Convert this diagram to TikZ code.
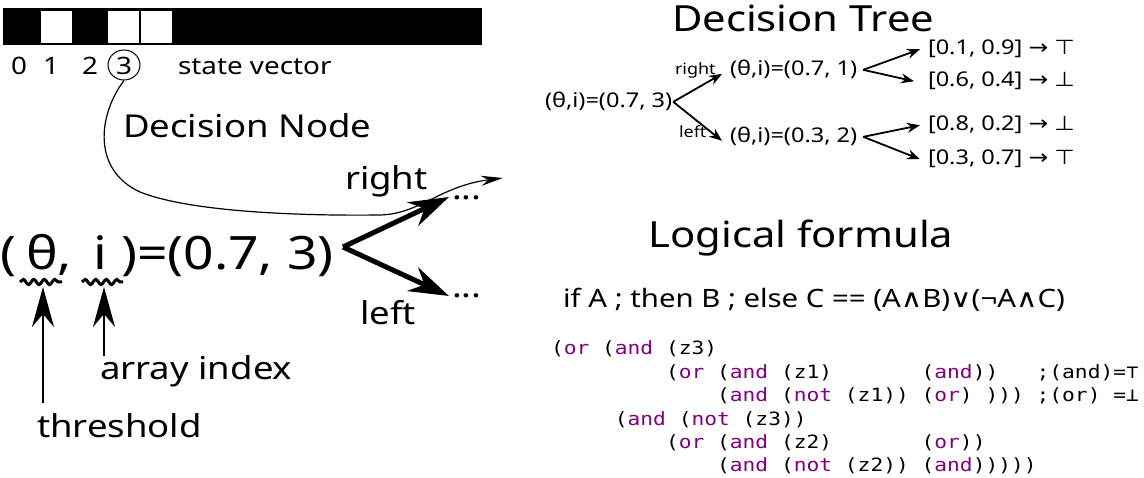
\documentclass[tikz,border=0pt]{standalone}
\usepackage{fontspec}
\setmainfont{Noto Sans}[FakeStretch=1.16]
\setmonofont{DejaVu Sans Mono}[FakeStretch=1.16]
\newfontfamily\symf{DejaVu Sans}[FakeStretch=1.16]
\usetikzlibrary{arrows.meta,shapes.geometric,decorations.pathmorphing}
\definecolor{kwc}{HTML}{800080}
\newcommand\fsz[1]{\fontsize{#1}{#1}\selectfont}
\newcommand\kw[1]{\textcolor{kwc}{#1}}
\tikzset{
  txt/.style={inner sep=0pt, outer sep=0pt},
  big/.style={txt, font=\fsz{46}},
  mid/.style={txt, font=\fsz{31.5}},
  ttl/.style={txt, font=\fsz{36}},
  sv/.style={txt, font=\fsz{24}},
  tn/.style={txt, font=\fsz{20.3}},
  tl/.style={txt, font=\fsz{15.5}},
  codeline/.style={txt, font=\ttfamily\fsz{18.3}},
  ifl/.style={txt, font=\fsz{25.3}},
  bigarr/.style={line width=5pt, -{Stealth[length=40pt,width=26pt]}},
  uparr/.style={line width=2pt, -{Stealth[length=40pt,width=22pt]}},
  tarr/.style={line width=1.8pt, -{Stealth[length=13pt,width=10pt]}},
  curvearr/.style={line width=1.2pt, -{Stealth[length=22pt,width=10pt]}},
  squig/.style={line width=3pt, decorate, decoration={snake, segment length=10.5pt, amplitude=2.6pt}},
  cell/.style={fill=white, minimum width=31pt, minimum height=32pt, inner sep=0pt},
}
\begin{document}
\begin{tikzpicture}[x=1pt,y=-1pt]
\useasboundingbox (0,0) rectangle (1144,478);
% state vector
\node[fill=black, anchor=north west, minimum width=479pt, minimum height=37pt, inner sep=0pt] (bar) at (3,8) {};
\node[cell] (cell1) at (56.5,27) {};
\node[cell] (cell3) at (123.5,27) {};
\node[cell] (cell4) at (156.5,27) {};
\node[sv, anchor=base] (d0) at (19,75) {0};
\node[sv, anchor=base] (d1) at (51,75) {1};
\node[sv, anchor=base] (d2) at (90,75) {2};
\node[sv, anchor=base] (d3) at (124,75) {3};
\node[draw, ellipse, line width=1pt, minimum width=32pt, minimum height=30pt, inner sep=0pt] (c3) at (124,65) {};
\node[sv, anchor=base west] (svl) at (178,75) {state vector};
% decision node
\node[mid, anchor=base west] (dn) at (123,138) {Decision Node};
\node[big, anchor=base west] (lp) at (0,270) {(};
\node[big, anchor=base west] (th) at (26,270) {θ,};
\node[big, anchor=base west] (ii) at (93,270) {i};
\node[big, anchor=base west] (rest) at (121,270) {)=(0.7, 3)};
\draw[squig] (20,282) -- (62,282);
\draw[squig] (82,282) -- (123,282);
\coordinate (sqT) at (43,287);
\coordinate (sqI) at (104,287);
\node[mid, anchor=base west] (ai) at (100,380) {array index};
\node[mid, anchor=base west] (thr) at (37,437) {threshold};
\draw[uparr] ([yshift=10pt]thr.north -| sqT) -- (sqT);
\draw[uparr] (ai.north -| sqI) -- (sqI);
\coordinate (apx) at (343,247);
\node[mid, anchor=base west] (dotsR) at (452,200) {...};
\node[mid, anchor=base west] (dotsL) at (452,298) {...};
\node[mid, anchor=base west] (rl) at (345,190) {right};
\node[mid, anchor=base west] (ll) at (360,325) {left};
\draw[bigarr] (apx) -- ([xshift=-3pt,yshift=3pt]dotsR.base west);
\draw[bigarr] (apx) -- ([xshift=-3pt,yshift=2pt]dotsL.base west);
\draw[curvearr] (c3.south) .. controls (98,115) and (92,170) .. (140,192)
  .. controls (190,212) and (300,216) .. (380,215)
  .. controls (420,214) and (440,186) .. (503,178);
% decision tree
\node[ttl, anchor=base west] (dt) at (672,32) {Decision Tree};
\node[tn, anchor=base west] (root) at (545,108) {(θ,i)=(0.7, 3)};
\node[tn, anchor=base west] (c1) at (730,76) {(θ,i)=(0.7, 1)};
\node[tn, anchor=base west] (c2) at (730,143) {(θ,i)=(0.3, 2)};
\node[tl, anchor=base west] (trl) at (675,75) {right};
\node[tl, anchor=base west] (tll) at (679,138) {left};
\node[tn, anchor=base west] (l1) at (928,55) {[0.1, 0.9] {\symf →} {\symf ⊤}};
\node[tn, anchor=base west] (l2) at (928,87) {[0.6, 0.4] {\symf →} {\symf ⊥}};
\node[tn, anchor=base west] (l3) at (928,131) {[0.8, 0.2] {\symf →} {\symf ⊥}};
\node[tn, anchor=base west] (l4) at (928,165) {[0.3, 0.7] {\symf →} {\symf ⊤}};
\draw[tarr] ([xshift=1pt]root.east) -- ([xshift=-8pt,yshift=-4pt]c1.west);
\draw[tarr] ([xshift=1pt]root.east) -- ([xshift=-8pt,yshift=-4pt]c2.west);
\draw[tarr] ([xshift=6pt]c1.east) -- ([xshift=-8pt]l1.west);
\draw[tarr] ([xshift=6pt]c1.east) -- ([xshift=-14pt]l2.west);
\draw[tarr] ([xshift=6pt]c2.east) -- ([xshift=-8pt]l3.west);
\draw[tarr] ([xshift=6pt]c2.east) -- ([xshift=-8pt]l4.west);
% logical formula
\node[ttl, anchor=base] (lf) at (801,248) {Logical formula};
\node[ifl, anchor=base] (ite) at (814,308) {if A ; then B ; else C == (A{\symf ∧}B){\symf ∨}(¬A{\symf ∧}C)};
\node[codeline, anchor=base west] (cl1) at (551,355) {(\kw{or} (\kw{and} (z3)};
\node[codeline, anchor=base west] (cl2) at (551,378.3) {~~~~~~~~~(\kw{or} (\kw{and} (z1)~~~~~~~(\kw{and}))~~~;(and)=⊤};
\node[codeline, anchor=base west] (cl3) at (551,401.7) {~~~~~~~~~~~~~(\kw{and} (\kw{not} (z1)) (\kw{or}) )))~;(or) =⊥};
\node[codeline, anchor=base west] (cl4) at (551,425) {~~~~~(\kw{and} (\kw{not} (z3))};
\node[codeline, anchor=base west] (cl5) at (551,448.3) {~~~~~~~~~(\kw{or} (\kw{and} (z2)~~~~~~~(\kw{or}))};
\node[codeline, anchor=base west] (cl6) at (551,471.7) {~~~~~~~~~~~~~(\kw{and} (\kw{not} (z2)) (\kw{and})))))};
\end{tikzpicture}
\end{document}
